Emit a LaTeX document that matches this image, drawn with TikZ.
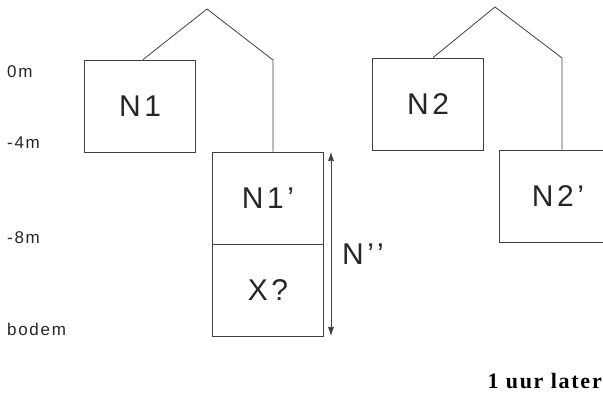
\documentclass[tikz,border=0pt]{standalone}
\usepackage{fontspec}
\setmainfont{Liberation Serif}
\newfontfamily\vakfont[LetterSpace=12]{Liberation Sans}
\newfontfamily\dieptefont[LetterSpace=10]{Liberation Sans}
\newfontfamily\titelfont[LetterSpace=8]{Liberation Serif}
\usetikzlibrary{positioning,arrows.meta}

\begin{document}
\begin{tikzpicture}[x=1pt, y=-1pt, >={Latex[length=9pt,width=6pt]},
  vak/.style={draw=black!75, line width=0.8pt, inner sep=0pt,
    minimum width=111pt, minimum height=92pt,
    text=black!85, font=\vakfont\fontsize{30}{30}\selectfont},
  dak/.style={draw=black!75, line width=0.8pt, line join=miter},
  diepte/.style={anchor=west, inner sep=0pt, text=black!85,
    font=\dieptefont\fontsize{17}{17}\selectfont}]
  \useasboundingbox (0,0) rectangle (603,395);

  % Depth scale on the left
  \foreach \naam/\y/\tekst in {d0/72/0m, d4/143/-4m, d8/238/-8m, bodem/329/bodem}{
    \node[diepte] (\naam) at (7,\y) {\tekst};
  }

  % Left house: N1 and its shifted part
  \node[vak] (N1)  at (140,106) {N1};
  \node[vak] (N1p) at (268,198) {N1’};
  \node[vak] (X)   at (268,290) {X?};
  \coordinate (top1) at (207,9);
  \coordinate (hoek1) at (273,60);
  \draw[dak] ([xshift=3pt]N1.north) -- (top1) -- (hoek1) -- ([xshift=5pt]N1p.north);

  % Arrow over N1' and X?
  \coordinate (pijlboven) at (331,152);
  \coordinate (pijlonder) at (331,336);
  \draw[<->, black!75, line width=0.6pt] (pijlboven) -- (pijlonder);
  \node[text=black!85, font=\vakfont\fontsize{30}{30}\selectfont] (Ndub) at (363,254) {N’’};

  % Right house: N2, cut off at the border
  \begin{scope}
    \clip (0,0) rectangle (603,395);
    \node[vak] (N2)  at (428,104) {N2};
    \node[vak, minimum width=118pt] (N2p) at (558,196) {N2’};
    \coordinate (top2) at (495,7);
    \coordinate (hoek2) at (562,58);
    \draw[dak] ([xshift=5pt]N2.north) -- (top2) -- (hoek2) -- ([xshift=4pt]N2p.north);
  \end{scope}

  % Caption
  \node[anchor=south east, inner sep=0pt,
    font=\titelfont\bfseries\fontsize{22}{22}\selectfont] (later) at (602,389) {1 uur later};
\end{tikzpicture}
\end{document}
